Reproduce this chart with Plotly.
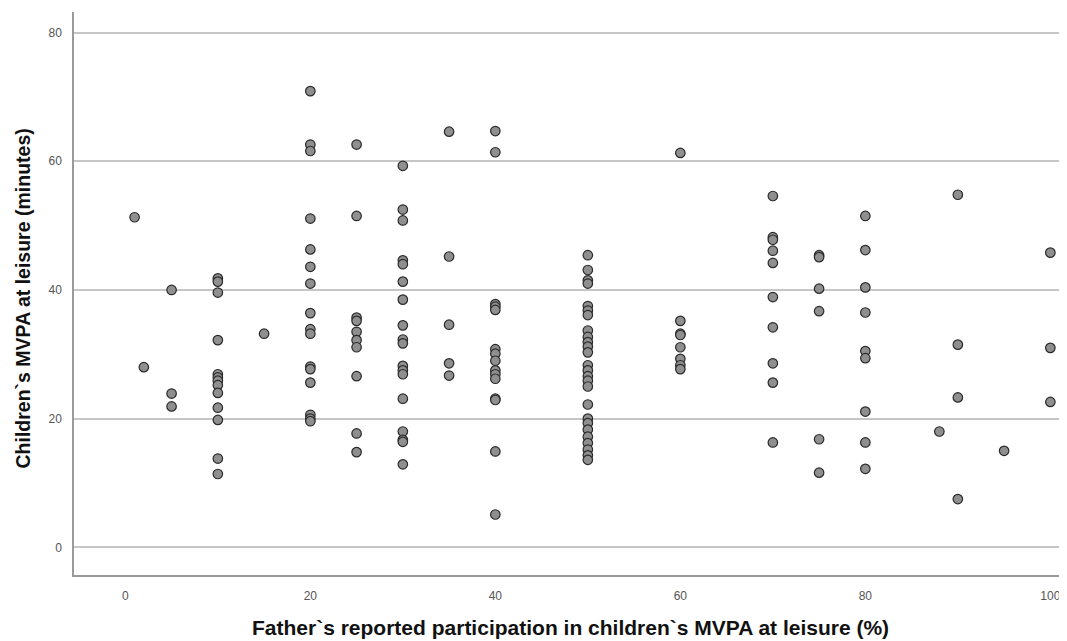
import plotly.graph_objects as go

# Father's reported participation (%) for each child, grouped by column
father_pct = (
    [1] + [2] + [5] * 3 + [10] * 13 + [15] + [20] * 16 + [25] * 10 + [30] * 18
    + [35] * 5 + [40] * 15 + [50] * 26 + [60] * 8 + [70] * 10 + [75] * 6
    + [80] * 9 + [88] + [90] * 4 + [95] + [100] * 3
)

# Children's MVPA at leisure (minutes), same order
child_mvpa = (
    [51.3]
    + [28.0]
    + [40.0, 23.9, 21.9]
    + [41.8, 41.3, 39.6, 32.2, 26.9, 26.4, 25.9, 25.2, 24.0, 21.7, 19.8, 13.8, 11.4]
    + [33.2]
    + [70.9, 62.6, 61.6, 51.1, 46.3, 43.6, 41.0, 36.4, 33.9, 33.2, 28.1, 27.7, 25.6, 20.6, 20.0, 19.6]
    + [62.6, 51.5, 35.7, 35.2, 33.5, 32.2, 31.1, 26.6, 17.7, 14.8]
    + [59.3, 52.5, 50.8, 44.6, 44.0, 41.3, 38.5, 34.5, 32.3, 31.7, 28.2, 27.5, 26.9, 23.1, 18.0, 16.7, 16.4, 12.9]
    + [64.6, 45.2, 34.6, 28.6, 26.7]
    + [64.7, 61.4, 37.8, 37.4, 36.9, 30.8, 30.1, 29.0, 27.5, 26.9, 26.2, 23.1, 22.9, 14.9, 5.1]
    + [45.4, 43.1, 41.5, 41.0, 37.5, 36.8, 36.1, 33.7, 32.7, 31.9, 31.2, 30.3, 28.3, 27.5, 26.6,
       25.9, 25.0, 22.2, 20.0, 19.3, 18.3, 17.2, 16.2, 15.2, 14.3, 13.6]
    + [61.3, 35.2, 33.2, 33.0, 31.1, 29.3, 28.3, 27.7]
    + [54.6, 48.2, 47.8, 46.1, 44.2, 38.9, 34.2, 28.6, 25.6, 16.3]
    + [45.4, 45.1, 40.2, 36.7, 16.8, 11.6]
    + [51.5, 46.2, 40.4, 36.5, 30.5, 29.4, 21.1, 16.3, 12.2]
    + [18.0]
    + [54.8, 31.5, 23.3, 7.5]
    + [15.0]
    + [45.8, 31.0, 22.6]
)

x_ticks = [0, 20, 40, 60, 80, 100]
y_ticks = [0, 20, 40, 60, 80]
x_title = "Father`s reported participation in children`s MVPA at leisure (%)"
y_title = "Children`s MVPA at leisure (minutes)"

FONT = "Arial, 'Liberation Sans', sans-serif"

fig = go.Figure(
    go.Scatter(
        x=father_pct,
        y=child_mvpa,
        mode="markers",
        marker=dict(size=9.5, color="#8f8f8f", line=dict(color="#2a2a2a", width=1.2)),
        hoverinfo="x+y",
    )
)

# page body has an 8px default margin, so the figure is 8px smaller than the window
fig.update_layout(
    width=1059,
    height=633,
    margin=dict(l=66, r=0, t=4, b=66, autoexpand=False),
    paper_bgcolor="white",
    plot_bgcolor="white",
    showlegend=False,
    font=dict(family=FONT, color="#555555", size=12),
    annotations=[
        dict(
            text=f"<b>{x_title}</b>",
            xref="paper", yref="paper", x=0.5, y=0,
            xanchor="center", yanchor="middle", yshift=-52,
            showarrow=False, font=dict(size=21, color="#111111"),
        ),
        dict(
            text=f"<b>{y_title}</b>",
            xref="paper", yref="paper", x=0, y=0.5,
            xanchor="center", yanchor="middle", xshift=-52, yshift=-5, textangle=-90,
            showarrow=False, font=dict(size=19.5, color="#111111"),
        ),
    ],
)

fig.update_xaxes(
    range=[-5.55, 101.8],
    tickvals=x_ticks,
    automargin=False,
    showgrid=False,
    zeroline=False,
    showline=True,
    linecolor="#9a9a9a",
    linewidth=1.5,
    ticks="",
    ticklabelstandoff=9,
    tickfont=dict(size=12, color="#555555"),
)

fig.update_yaxes(
    range=[-4.3, 83.2],
    tickvals=y_ticks,
    automargin=False,
    showgrid=True,
    gridcolor="#c6c6c6",
    gridwidth=1.5,
    zeroline=False,
    showline=True,
    linecolor="#9a9a9a",
    linewidth=1.5,
    ticks="",
    ticklabelstandoff=8,
    tickfont=dict(size=12, color="#555555"),
)

fig.write_html("out.html")
